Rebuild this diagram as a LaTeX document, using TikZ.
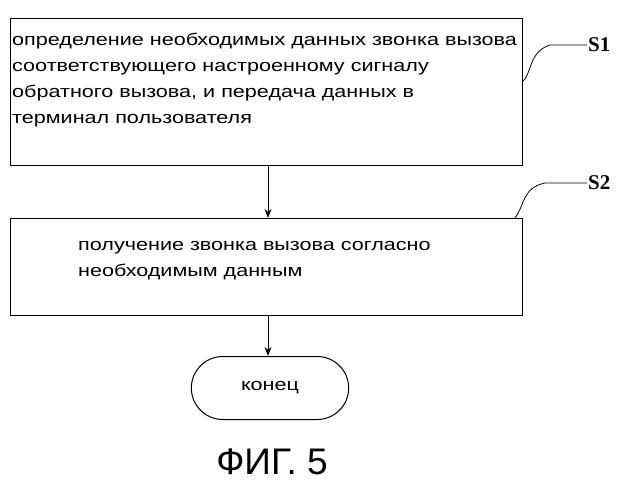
\documentclass[tikz,border=0pt]{standalone}
\usepackage{fontspec}
\setmainfont{Liberation Sans}
\newfontfamily\widef[FakeStretch=1.27]{Liberation Sans}
\newfontfamily\serifx{Liberation Serif}
\usetikzlibrary{arrows.meta,shapes.misc}
\tikzset{
  box/.style={draw,line width=1pt,minimum width=512pt,anchor=north west,inner sep=0pt},
  arr/.style={-{Stealth[length=9pt,width=7pt]},line width=1pt},
  txt/.style={font=\widef\fontsize{17}{26}\selectfont,align=left,anchor=north west,inner sep=0pt},
  lab/.style={font=\serifx\bfseries\fontsize{21}{22}\selectfont,inner sep=1pt}
}
\begin{document}
\begin{tikzpicture}[x=1pt,y=-1pt]
\useasboundingbox (0,0) rectangle (627,500);
\node[box,minimum height=147pt] (b1) at (10,18) {};
\node[txt] (t1) at (12,33) {определение необходимых данных звонка вызова\\соответствующего настроенному сигналу\\обратного вызова, и передача данных в\\терминал пользователя};
\node[box,minimum height=97pt] (b2) at (10,218) {};
\node[txt] (t2) at (78,241) {получение звонка вызова согласно\\необходимым данным};
\node[draw,line width=1pt,rounded rectangle,minimum width=164pt,minimum height=63pt,font=\widef\fontsize{17}{20}\selectfont] (e) at (270,388) {конец};
\draw[arr] (b1.south -| 268,0) -- (b2.north -| 268,0);
\draw[arr] (b2.south -| 268,0) -- (e.north -| 268,0);
\node[lab,anchor=west] (s1) at (587,45) {S1};
\node[lab,anchor=west] (s2) at (587,183) {S2};
\coordinate (c1) at (522,82);
\coordinate (c2) at (515,218);
\draw[line width=0.8pt] (c1) .. controls (532,75) and (528,52) .. (550,45) -- (s1.west);
\draw[line width=0.8pt] (c2) .. controls (525,205) and (522,188) .. (545,183) -- (s2.west);
\node[font=\fontsize{37}{40}\selectfont] (f) at (272,462) {ФИГ. 5};
\end{tikzpicture}
\end{document}
